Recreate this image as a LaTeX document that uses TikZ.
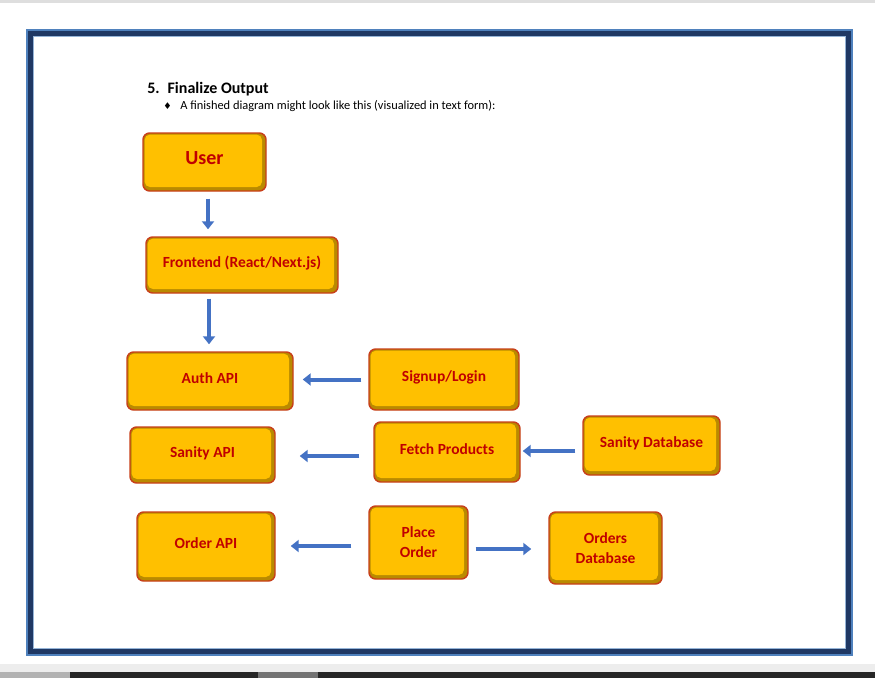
\documentclass[tikz,border=0pt]{standalone}
\usepackage{fontspec}
\setmainfont{Carlito}
\newfontfamily\symfont{DejaVu Sans}
\usetikzlibrary{arrows.meta}
\definecolor{gold}{HTML}{FFC000}
\definecolor{bevel}{HTML}{B98A00}
\definecolor{boxborder}{HTML}{C8401A}
\definecolor{boxtext}{HTML}{C00000}
\definecolor{arrblue}{HTML}{4472C4}
\definecolor{navy}{HTML}{1F3864}
\definecolor{edgeblue}{HTML}{4F81BD}
\tikzset{
  box/.style={rounded corners=5pt, draw=boxborder, line width=1.1pt, fill=bevel,
    text=boxtext, font=\bfseries\fontsize{11.6}{15}\selectfont, align=center, inner sep=0pt,
    path picture={\fill[gold, rounded corners=4pt]
      ([shift={(1.2pt,3pt)}]path picture bounding box.south west) rectangle
      ([shift={(-3pt,-1.2pt)}]path picture bounding box.north east);}},
  up/.style={text height=8.5pt, text depth=5.5pt},
  arr/.style={draw=arrblue, line width=3pt, -{Triangle[width=9pt,length=6pt]}},
  heading/.style={anchor=base west, inner sep=0pt, font=\bfseries\fontsize{12}{14}\selectfont},
  bodytext/.style={anchor=base west, inner sep=0pt, font=\fontsize{9.3}{11}\selectfont},
}
\begin{document}
\begin{tikzpicture}[x=0.75pt,y=-0.75pt]
\useasboundingbox (0,0) rectangle (875,678);
\fill[white] (0,0) rectangle (875,678);
% screenshot chrome
\fill[black!13] (0,0) rectangle (875,3);
\fill[black!7] (0,664) rectangle (875,672);
\fill[black!85] (0,672) rectangle (875,678);
\fill[black!30] (0,672) rectangle (70,678);
\fill[black!55] (258,672) rectangle (318,678);
% page frame
\draw[navy, line width=4.5pt] (30,33) rectangle (849,652);
\draw[edgeblue, line width=0.8pt] (27,30) rectangle (852,655);
\draw[edgeblue!60, line width=0.5pt] (33.5,36.5) rectangle (845.5,648.5);
% heading
\node[heading] (h) at (147,93) {5.\hspace{0.5em}Finalize Output};
\node[anchor=base west, inner sep=0pt, font=\symfont\fontsize{7}{8}\selectfont] (bul) at (163,109) {♦};
\node[bodytext] (t) at (180,109) {A finished diagram might look like this (visualized in text form):};
% boxes
\node[box, minimum width=92.25pt, minimum height=43.5pt, font=\bfseries\fontsize{15}{17}\selectfont, text height=11pt, text depth=7pt] (user) at (204.5,162) {User};
\node[box, up, minimum width=144pt, minimum height=42pt] (front) at (242,265) {Frontend (React/Next.js)};
\node[box, up, minimum width=124.5pt, minimum height=43.5pt] (auth) at (210,381) {Auth API};
\node[box, up, minimum width=112.5pt, minimum height=45.75pt] (signup) at (444,379.5) {Signup/Login};
\node[box, up, minimum width=108.75pt, minimum height=42pt] (sapi) at (202.5,455) {Sanity API};
\node[box, up, minimum width=109.5pt, minimum height=45pt] (fetch) at (447,452) {Fetch Products};
\node[box, up, minimum width=102.75pt, minimum height=44.25pt] (sdb) at (651.5,445.5) {Sanity Database};
\node[box, up, minimum width=103.5pt, minimum height=51.75pt] (oapi) at (206,546.5) {Order API};
\node[box, minimum width=74.25pt, minimum height=54.75pt] (place) at (418.5,542.5) {Place\\[0pt]Order};
\node[box, minimum width=84.75pt, minimum height=54pt] (odb) at (605.5,548) {Orders\\[0pt]Database};
% arrows
\draw[arr] ([shift={(3.5,7)}]user.south) -- ([shift={(3.5,-7)}]user.south |- front.north);
\draw[arr] ([shift={(-1,5)}]auth.north |- front.south) -- ([shift={(-1,-7)}]auth.north);
\draw[arr] ([shift={(-7,0)}]signup.west) -- ([shift={(9,0)}]auth.east |- signup.west);
\draw[arr] ([shift={(-14,4)}]fetch.west) -- ([shift={(24,1)}]sapi.east);
\draw[arr] ([shift={(-7,5.5)}]sdb.west) -- ([shift={(2,-1)}]fetch.east);
\draw[arr] ([shift={(-17,3.5)}]place.west) -- ([shift={(15,-0.5)}]oapi.east);
\draw[arr] ([shift={(7,6.5)}]place.east) -- ([shift={(-17,1)}]odb.west);
\end{tikzpicture}
\end{document}
